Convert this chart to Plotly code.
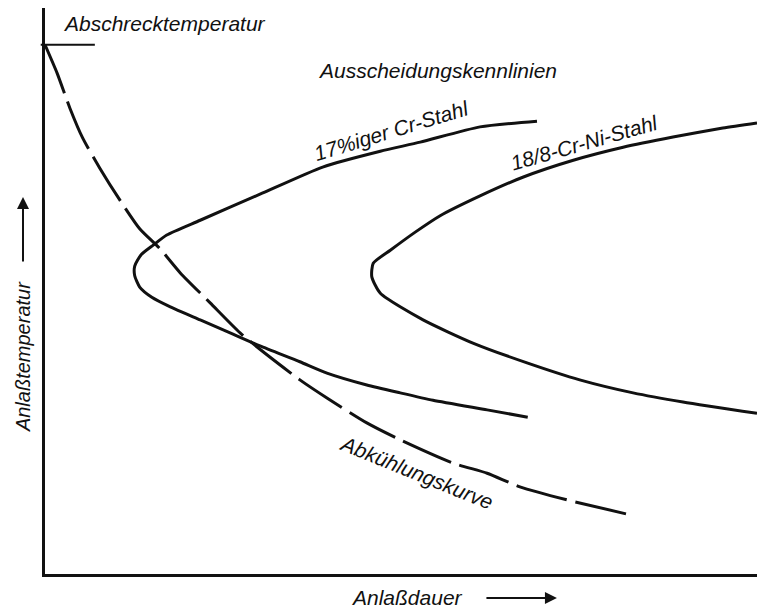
import plotly.graph_objects as go

# Schematic tempering diagram: annealing time (x) vs. tempering temperature (y),
# both in arbitrary units 0..100.

quench_temp = 93.5  # Abschrecktemperatur

# Ausscheidungskennlinie, 17%iger Cr-Stahl (upper branch -> nose -> lower branch)
cr_time = [69.1, 61.1, 52.7, 47.1, 39.0, 30.2, 21.8, 17.1, 15.2, 13.5, 12.6,
           12.6, 13.3, 15.0, 17.6, 21.8, 26.0, 30.2, 35.8, 39.6, 45.2, 49.9, 54.5, 62.1, 67.8]
cr_temp = [80.0, 79.0, 76.3, 74.7, 71.9, 67.1, 62.5, 59.9, 58.1, 56.4, 54.4,
           52.7, 50.7, 48.9, 47.2, 44.9, 42.6, 40.3, 37.5, 35.5, 33.4, 32.0, 30.7, 29.0, 27.7]

# Ausscheidungskennlinie, 18/8-Cr-Ni-Stahl
crni_time = [100.0, 95.2, 88.2, 81.2, 74.2, 67.1, 61.1, 55.5, 52.0, 48.5, 46.1,
             45.9, 47.1, 53.1, 60.1, 67.7, 75.1, 82.6, 89.6, 100.0]
crni_temp = [79.7, 78.8, 77.2, 75.4, 73.1, 70.1, 66.8, 63.3, 60.4, 57.2, 54.9,
             52.5, 49.6, 44.9, 40.8, 37.3, 34.3, 32.0, 30.4, 28.4]

# Abkühlungskurve (dashed), starting at the quench temperature
cool_time = [0.0, 1.7, 3.5, 5.3, 7.7, 10.5, 13.3, 16.2, 19.0, 23.2, 27.4,
             30.9, 35.8, 39.6, 45.2, 49.9, 57.3, 62.1, 66.7, 73.3, 81.7]
cool_temp = [quench_temp, 88.5, 82.3, 77.0, 71.7, 66.1, 61.0, 57.4, 53.2, 47.9, 42.6,
             39.0, 34.3, 31.1, 26.7, 23.7, 19.6, 17.8, 15.4, 13.1, 10.6]

INK = "#111111"
FONT = "Liberation Sans, Arial, DejaVu Sans, sans-serif"

fig = go.Figure()

fig.add_trace(go.Scatter(x=cr_time, y=cr_temp, mode="lines",
                         line=dict(color=INK, width=3, shape="spline", smoothing=0.6),
                         hoverinfo="skip"))
fig.add_trace(go.Scatter(x=crni_time, y=crni_temp, mode="lines",
                         line=dict(color=INK, width=3, shape="spline", smoothing=0.6),
                         hoverinfo="skip"))
fig.add_trace(go.Scatter(x=cool_time, y=cool_temp, mode="lines",
                         line=dict(color=INK, width=3, shape="spline", smoothing=0.6,
                                   dash="52px,9px"),
                         hoverinfo="skip"))

# short horizontal mark for the quench temperature on the temperature axis
fig.add_shape(type="line", xref="paper", yref="y",
              x0=-0.006, x1=0.07, y0=quench_temp, y1=quench_temp,
              line=dict(color=INK, width=2))

def label(text, x, y, angle=0, xref="x", yref="y", xanchor="center", size=21):
    fig.add_annotation(text=text, x=x, y=y, xref=xref, yref=yref,
                       showarrow=False, textangle=angle, xanchor=xanchor,
                       yanchor="middle",
                       font=dict(family=FONT, size=size, color=INK, style="italic"))

label("Abschrecktemperatur", 2.25, 97.2, xanchor="left")
label("Ausscheidungskennlinien", 55.1, 88.9)
label("17%iger Cr-Stahl", 48.7, 78.4, angle=-17)
label("18/8-Cr-Ni-Stahl", 75.8, 76.3, angle=-16)
label("Abkühlungskurve", 52.2, 18.0, angle=22)
label("Anlaßtemperatur", -0.0309, 38.5, angle=-90, xref="paper", size=20)
label("Anlaßdauer", 50.8, -0.0424, yref="paper")

# axis direction arrows
fig.add_annotation(text="", x=-0.0309, y=66.6, xref="paper", yref="y",
                   showarrow=True, ax=0, ay=66, axref="pixel", ayref="pixel",
                   arrowhead=2, arrowsize=1.2, arrowwidth=2, arrowcolor=INK)
fig.add_annotation(text="", x=71.9, y=-0.0424, xref="x", yref="paper",
                   showarrow=True, ax=-72, ay=0, axref="pixel", ayref="pixel",
                   arrowhead=2, arrowsize=1.2, arrowwidth=2, arrowcolor=INK)

axis_style = dict(showline=True, linecolor=INK, linewidth=2.5, showgrid=False,
                  zeroline=False, showticklabels=False, ticks="", mirror=False,
                  fixedrange=True)
fig.update_xaxes(range=[0, 100], **axis_style)
fig.update_yaxes(range=[0, 100], **axis_style)

fig.update_layout(width=757, height=612, showlegend=False,
                  margin=dict(l=45, r=0, t=8, b=38),
                  paper_bgcolor="white", plot_bgcolor="white")

fig.write_html("out.html")
